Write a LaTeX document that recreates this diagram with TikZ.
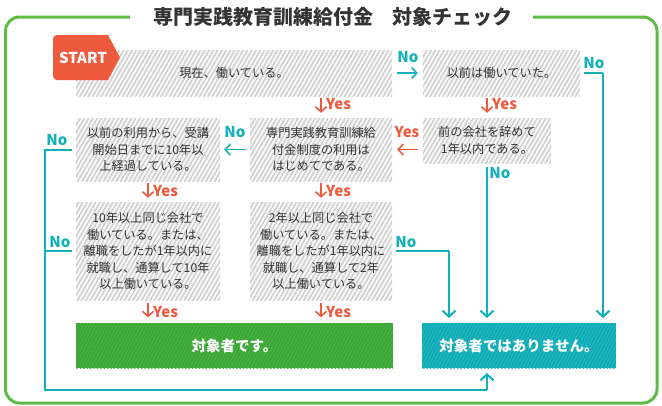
\documentclass[tikz,border=0pt]{standalone}
\usepackage{fontspec}
\setmainfont{Noto Sans CJK JP}
\usetikzlibrary{arrows.meta,patterns.meta}
\definecolor{framec}{HTML}{5DBB46}
\definecolor{startc}{HTML}{EE5A3E}
\definecolor{tealc}{HTML}{12B0BA}
\definecolor{tealbox}{HTML}{0FA9B3}
\definecolor{tealstripe}{HTML}{20B8C2}
\definecolor{grbox}{HTML}{3AA535}
\definecolor{grstripe}{HTML}{4BB043}
\definecolor{hatchbg}{HTML}{F8F8F8}
\definecolor{hatchln}{HTML}{CFCFCF}
\definecolor{txt}{HTML}{333333}
\begin{document}
\begin{tikzpicture}[x=1pt,y=-1pt,
  box/.style={draw=none, preaction={fill=hatchbg},
    pattern={Lines[angle=60,distance=3.7pt,line width=1.5pt]}, pattern color=hatchln,
    text=txt, font=\fontsize{12.2}{16.6}\selectfont, align=center, inner sep=0pt},
  resbox/.style={draw=none, text=white, font=\bfseries\fontsize{14.5}{17}\selectfont, inner sep=0pt,
    pattern={Lines[angle=62,distance=3pt,line width=1.2pt]}},
  nolab/.style={text=tealc, font=\bfseries\fontsize{15}{17}\selectfont, inner sep=0pt},
  yeslab/.style={text=startc, font=\bfseries\fontsize{15}{17}\selectfont, inner sep=0pt},
  tline/.style={draw=tealc, line width=2pt},
  tarr/.style={tline, -{Straight Barb[length=6pt,width=13pt]}},
  tsarr/.style={draw=tealc, line width=1.6pt, -{Straight Barb[length=5pt,width=11pt]}},
  rarr/.style={draw=startc, line width=1.6pt, -{Straight Barb[length=5pt,width=11pt]}},
]
\useasboundingbox (0,0) rectangle (662,405);

% frame and title
\draw[framec, line width=3pt, rounded corners=14pt]
  (130,17) -- (5.5,17) -- (5.5,403) -- (657,403) -- (657,17) -- (533,17);
\node[text=txt, font=\bfseries\fontsize{20}{22}\selectfont, inner sep=0pt] (title) at (333,17)
  {専門実践教育訓練給付金　対象チェック};

% boxes
\node[box, minimum width=316pt, minimum height=46pt] (b1) at (234,73) {現在、働いている。};
\node[box, minimum width=157pt, minimum height=46pt] (b2) at (501.5,73) {以前は働いていた。};
\node[box, minimum width=144pt, minimum height=63pt] (bA) at (148,149.5)
  {以前の利用から、受講\\開始日までに10年以\\上経過している。};
\node[box, minimum width=142pt, minimum height=63pt] (bB) at (321,149.5)
  {専門実践教育訓練給\\付金制度の利用は\\はじめてである。};
\node[box, minimum width=128pt, minimum height=45pt] (bC) at (487,140.5)
  {前の会社を辞めて\\1年以内である。};
\node[box, minimum width=144pt, minimum height=98pt] (bD) at (148,251)
  {10年以上同じ会社で\\働いている。または、\\離職をしたが1年以内に\\就職し、通算して10年\\以上働いている。};
\node[box, minimum width=142pt, minimum height=98pt] (bE) at (321,251)
  {2年以上同じ会社で\\働いている。または、\\離職をしたが1年以内に\\就職し、通算して2年\\以上働いている。};
\node[resbox, preaction={fill=grbox}, pattern color=grstripe,
  minimum width=317pt, minimum height=45pt] (gr) at (234.5,345.5) {対象者です。};
\node[resbox, preaction={fill=tealbox}, pattern color=tealstripe,
  minimum width=194pt, minimum height=45pt] (tl) at (519,345.5) {対象者ではありません。};

% START tag
\fill[startc] (108,35) -- (120,57.5) -- (108,80) [rounded corners=4pt] -- (53,80) -- (53,35) [sharp corners] -- cycle;
\node[text=white, font=\bfseries\fontsize{15}{17}\selectfont, inner sep=0pt] (start) at (83,58) {START};

% helper coordinates
\coordinate (cB) at (bC.west |- bB.east);
\coordinate (rt) at (603,73);
\coordinate (rtend) at (603,318);
\coordinate (cEnd) at (487,318);
\coordinate (eTurn) at (449,251);
\coordinate (eEnd) at (449,318);
\coordinate (lTop) at (45,149.5);
\coordinate (lMid) at (45,251);
\coordinate (lBot) at (45,390);
\coordinate (uBot) at (487,390);
\coordinate (uEnd) at (487,373);

% row 1
\draw[tsarr] ([xshift=4pt]b1.east) -- ([xshift=-5pt]b2.west);
\node[nolab] (n1) at (408,57) {No};
\draw[tline] ([xshift=4pt]b2.east) -- (rt);
\draw[tarr] (rt) -- (rtend);
\node[nolab] (n2) at (594,63) {No};

\draw[rarr] ([yshift=20pt]bB.north) -- ([yshift=5pt]bB.north);
\node[yeslab, anchor=west] (y1) at (326,104) {Yes};
\draw[rarr] ([yshift=20pt]bC.north) -- ([yshift=5pt]bC.north);
\node[yeslab, anchor=west] (y2) at (492,104) {Yes};

% row 2
\draw[rarr] ([xshift=-5pt]cB) -- ([xshift=5pt]bB.east);
\node[yeslab] (y3) at (407,132) {Yes};
\draw[tsarr] ([xshift=-4pt]bB.west) -- ([xshift=4pt]bA.east);
\node[nolab] (n3) at (235,132) {No};
\draw[tline] ([xshift=-4pt]bA.west) -- (lTop) -- (lBot) -- (uBot);
\draw[tarr] (uBot) -- (uEnd);
\node[nolab] (n4) at (57,140) {No};
\draw[tarr] ([yshift=-4pt]bC.south) -- (cEnd);
\node[nolab] (n5) at (500,173) {No};

\draw[rarr] ([yshift=19pt]bD.north) -- ([yshift=4pt]bD.north);
\node[yeslab, anchor=west] (y4) at (153,191) {Yes};
\draw[rarr] ([yshift=19pt]bE.north) -- ([yshift=4pt]bE.north);
\node[yeslab, anchor=west] (y5) at (326,191) {Yes};

% row 3
\draw[tline] ([xshift=-4pt]bD.west) -- (lMid);
\node[nolab] (n6) at (60,242) {No};
\draw[tline] ([xshift=4pt]bE.east) -- (eTurn);
\draw[tarr] (eTurn) -- (eEnd);
\node[nolab] (n7) at (406,242) {No};

\draw[rarr] ([yshift=19pt]gr.north -| bD.south) -- ([yshift=5pt]gr.north -| bD.south);
\node[yeslab, anchor=west] (y6) at (153,312) {Yes};
\draw[rarr] ([yshift=19pt]gr.north -| bE.south) -- ([yshift=5pt]gr.north -| bE.south);
\node[yeslab, anchor=west] (y7) at (326,312) {Yes};
\end{tikzpicture}
\end{document}
